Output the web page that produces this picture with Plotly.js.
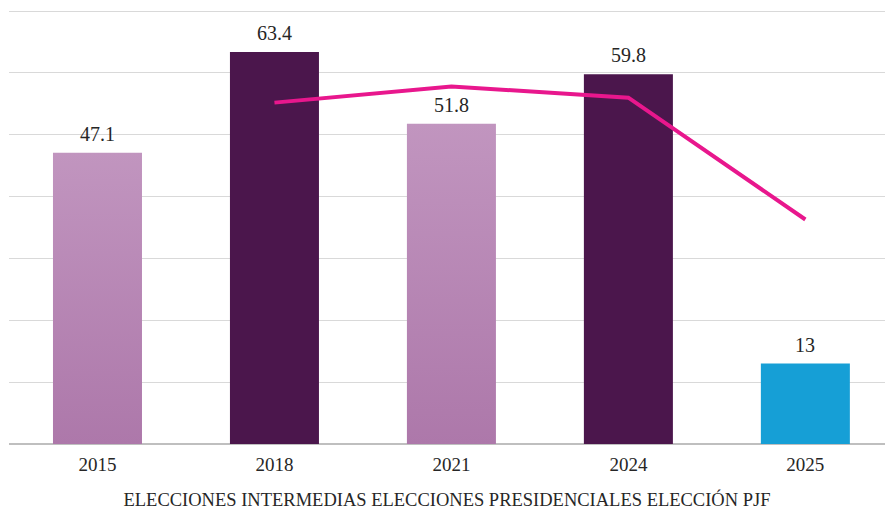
<!DOCTYPE html>
<html>
<head>
<meta charset="utf-8">
<script src="https://cdn.plot.ly/plotly-3.0.1.min.js"></script>
<style>html,body{margin:0;padding:0;background:#fff;}#chart{width:885px;height:510px;}</style>
</head>
<body>
<div id="chart"></div>
<script>
const categories = ["2015", "2018", "2021", "2024", "2025"];
const barValues = [47.1, 63.4, 51.8, 59.8, 13];
const barLabels = ["47.1", "63.4", "51.8", "59.8", "13"];
const lineCategories = ["2018", "2021", "2024", "2025"];
const lineValues = [55.2, 57.8, 56.0, 36.3];
const xAxisTitle = "ELECCIONES INTERMEDIAS ELECCIONES PRESIDENCIALES ELECCIÓN PJF";

const LIGHT = "#B886B4", DARK = "#4B164C", BLUE = "#169FD6";
const barColors = [LIGHT, DARK, LIGHT, DARK, BLUE];
const FONT = "Liberation Serif, DejaVu Serif, serif";

const bars = {
  type: "bar", x: categories, y: barValues,
  marker: {color: barColors, line: {width: 0}},
  hoverinfo: "x+y", showlegend: false
};
const line = {
  type: "scatter", mode: "lines", x: lineCategories, y: lineValues,
  line: {color: "#E8178D", width: 4}, showlegend: false, hoverinfo: "x+y"
};
const annotations = categories.map(function (c, i) {
  return {
    x: i, y: barValues[i], xref: "x", yref: "y", text: barLabels[i],
    showarrow: false, yanchor: "bottom", yshift: 6,
    font: {family: FONT, size: 20, color: "#262626"}
  };
});
const layout = {
  width: 885, height: 510,
  margin: {l: 9, r: 0, t: 8, b: 66},
  paper_bgcolor: "#fff", plot_bgcolor: "#fff",
  bargap: 0.497,
  font: {family: FONT, color: "#262626"},
  annotations: annotations,
  xaxis: {
    type: "category", range: [-0.5, 4.45],
    tickfont: {family: FONT, size: 19, color: "#262626"},
    ticks: "", showgrid: false, showline: false, ticklabelstandoff: 7,
    title: {text: xAxisTitle, font: {family: FONT, size: 18.5, color: "#262626"}, standoff: 20}
  },
  yaxis: {
    range: [0, 70.5], dtick: 10, showticklabels: false, ticks: "",
    showgrid: true, gridcolor: "#D9D9D9", gridwidth: 1,
    zeroline: true, zerolinecolor: "#BFBFBF", zerolinewidth: 2, showline: false
  }
};
Plotly.newPlot("chart", [bars, line], layout, {staticPlot: true}).then(function (gd) {
  const svg = gd.querySelector("svg.main-svg");
  const ns = "http://www.w3.org/2000/svg";
  let defs = svg.querySelector("defs");
  const grad = document.createElementNS(ns, "linearGradient");
  grad.setAttribute("id", "lightGrad");
  grad.setAttribute("x1", "0"); grad.setAttribute("y1", "0");
  grad.setAttribute("x2", "0"); grad.setAttribute("y2", "1");
  [["0", "#C195BF"], ["1", "#AD78AA"]].forEach(function (s) {
    const st = document.createElementNS(ns, "stop");
    st.setAttribute("offset", s[0]); st.setAttribute("stop-color", s[1]);
    grad.appendChild(st);
  });
  defs.appendChild(grad);
  const paths = gd.querySelectorAll(".barlayer .point path");
  paths.forEach(function (p, i) {
    if (barColors[i] === LIGHT) p.style.fill = "url(#lightGrad)";
  });
});
</script>
</body>
</html>
